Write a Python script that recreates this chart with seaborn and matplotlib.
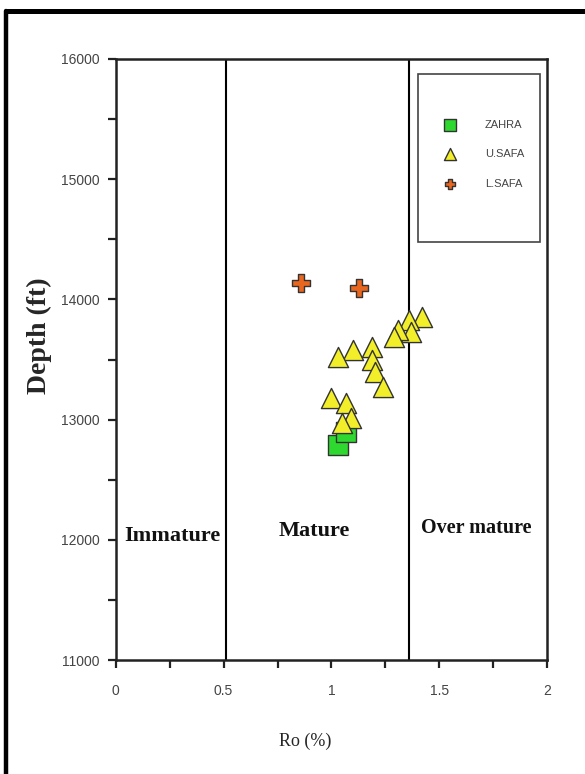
import pandas as pd
import matplotlib.pyplot as plt
import seaborn as sns
from matplotlib.lines import Line2D
from matplotlib.patches import Rectangle
from matplotlib.ticker import MultipleLocator

# Ro (%) and depth (ft)
zahra_ro = [1.03, 1.07]
zahra_depth = [12790, 12900]

usafa_ro = [1.42, 1.36, 1.37, 1.31, 1.29, 1.19, 1.10, 1.03, 1.19, 1.20,
            1.24, 1.00, 1.07, 1.09, 1.05]
usafa_depth = [13855, 13830, 13730, 13745, 13690, 13605, 13580, 13520, 13495, 13395,
               13270, 13180, 13140, 13015, 12970]

lsafa_ro = [0.86, 1.13]
lsafa_depth = [14140, 14095]

wells = ["ZAHRA", "U.SAFA", "L.SAFA"]
zone_bounds = [0.51, 1.36]
zone_names = ["Immature", "Mature", "Over mature"]
zone_x = [0.26, 0.92, 1.67]
zone_y = [12030, 12075, 12100]

df = pd.DataFrame({
    "Ro": zahra_ro + usafa_ro + lsafa_ro,
    "Depth": zahra_depth + usafa_depth + lsafa_depth,
    "Well": ["ZAHRA"] * len(zahra_ro) + ["U.SAFA"] * len(usafa_ro) + ["L.SAFA"] * len(lsafa_ro),
})

sns.set_style("ticks")
plt.rcParams["font.family"] = ["Liberation Sans", "DejaVu Sans"]

fig = plt.figure(figsize=(5.85, 7.74), dpi=100)
ax = fig.add_axes([0.198, 0.147, 0.737, 0.777])

palette = {"ZAHRA": "#2fd82f", "U.SAFA": "#f2ee2a", "L.SAFA": "#e8661e"}
markers = {"ZAHRA": "s", "U.SAFA": "^", "L.SAFA": "P"}
sizes = {"ZAHRA": 190, "U.SAFA": 210, "L.SAFA": 150}

for w in wells:
    sub = df[df["Well"] == w]
    sns.scatterplot(data=sub, x="Ro", y="Depth", ax=ax, color=palette[w],
                    marker=markers[w], s=sizes[w], edgecolor="#333333",
                    linewidth=1.0, label=w, zorder=3)

for b in zone_bounds:
    ax.axvline(b, color="black", lw=1.5, zorder=2)

for name, x, y in zip(zone_names, zone_x, zone_y):
    fs = 14.5 if name == "Over mature" else 16
    ax.text(x, y, name, ha="center", va="center", fontsize=fs,
            fontweight="bold", family="Liberation Serif", color="#111111")

ax.set_xlim(0, 2)
ax.set_ylim(11000, 16000)
ax.xaxis.set_major_locator(MultipleLocator(0.5))
ax.xaxis.set_minor_locator(MultipleLocator(0.25))
ax.yaxis.set_major_locator(MultipleLocator(1000))
ax.yaxis.set_minor_locator(MultipleLocator(500))
ax.set_xticks([0, 0.5, 1, 1.5, 2])
ax.set_xticklabels(["0", "0.5", "1", "1.5", "2"])
ax.tick_params(which="both", direction="out", width=1.6, length=6, color="#222222")
ax.tick_params(axis="both", labelsize=10, labelcolor="#444444")
ax.tick_params(axis="y", pad=5.5)
ax.tick_params(axis="x", pad=11)
for s in ax.spines.values():
    s.set_visible(True)
    s.set_linewidth(1.8)
    s.set_color("#222222")

ax.set_xlabel("Ro (%)", fontsize=13, family="Liberation Serif")
ax.xaxis.set_label_coords(0.44, -0.12)
ax.set_ylabel("Depth (ft)", fontsize=20, fontweight="bold", family="Liberation Serif")
ax.yaxis.set_label_coords(-0.148, 0.54)

# legend box drawn separately, it is much larger than the entries
ax.add_patch(Rectangle((0.70, 0.695), 0.284, 0.28, transform=ax.transAxes,
                       facecolor="white", edgecolor="#444444", lw=1.2, zorder=4))
leg = ax.legend(loc="upper left", bbox_to_anchor=(0.725, 0.915), frameon=False,
                markerscale=0.6, fontsize=8, handletextpad=2.2, labelspacing=1.75)
leg.set_zorder(5)
for t in leg.get_texts():
    t.set_color("#444444")

# outer frame of the figure
fig.add_artist(Line2D([0.0105, 0.0105], [0, 0.986], transform=fig.transFigure, color="black", lw=3.2))
fig.add_artist(Line2D([0.0105, 1], [0.986, 0.986], transform=fig.transFigure, color="black", lw=3.6))

plt.savefig("out.png", dpi=100)
